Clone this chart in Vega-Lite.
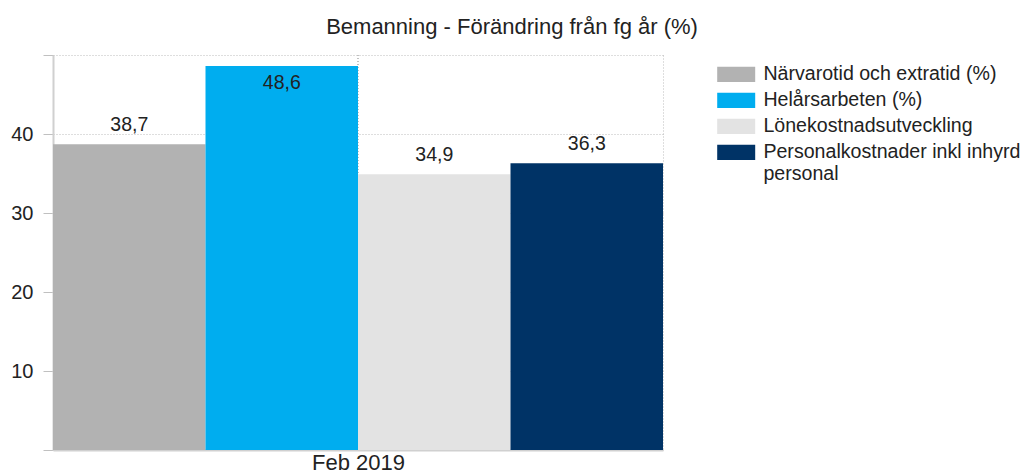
{
  "$schema": "https://vega.github.io/schema/vega-lite/v6.json",
  "autosize": "none",
  "padding": {"left": 53, "top": 55, "right": 367, "bottom": 24},
  "width": 610,
  "height": 395,
  "background": "white",
  "config": {
    "view": {"stroke": null},
    "font": "Liberation Sans",
    "locale": {
      "number": {"decimal": ",", "thousands": " ", "grouping": [3], "currency": ["", " kr"]}
    }
  },
  "title": {
    "text": "Bemanning - Förändring från fg år (%)",
    "fontSize": 22,
    "fontWeight": "normal",
    "color": "#222222",
    "anchor": "middle",
    "frame": "group",
    "dx": 154,
    "offset": 16
  },
  "data": {
    "values": [
      {"period": "Feb 2019", "serie": "Närvarotid och extratid (%)", "value": 38.7},
      {"period": "Feb 2019", "serie": "Helårsarbeten (%)", "value": 48.6},
      {"period": "Feb 2019", "serie": "Lönekostnadsutveckling", "value": 34.9},
      {"period": "Feb 2019", "serie": "Personalkostnader inkl inhyrd personal", "value": 36.3}
    ]
  },
  "encoding": {
    "x": {
      "field": "period", "type": "nominal", "title": null,
      "scale": {"paddingInner": 0, "paddingOuter": 0},
      "axis": {
        "labelAngle": 0, "labelFontSize": 22, "labelColor": "#222222", "labelPadding": 2,
        "ticks": false, "domainColor": "#d0d0d0", "domainWidth": 2,
        "grid": true, "tickBand": "extent", "gridColor": "#bdbdbd", "gridDash": [1, 2]
      }
    }
  },
  "layer": [
    {
      "mark": {"type": "rule", "color": "#bdbdbd", "strokeDash": [1, 2], "strokeWidth": 1},
      "encoding": {}
    },
    {
      "mark": {"type": "bar"},
      "encoding": {
        "xOffset": {
          "field": "serie", "type": "nominal",
          "scale": {
            "domain": ["Närvarotid och extratid (%)", "Helårsarbeten (%)", "Lönekostnadsutveckling", "Personalkostnader inkl inhyrd personal"],
            "paddingInner": 0, "paddingOuter": 0
          }
        },
        "y": {
          "field": "value", "type": "quantitative", "title": null,
          "scale": {"domain": [0, 50], "nice": false},
          "axis": {
            "values": [0, 10, 20, 30, 40, 50],
            "labelExpr": "datum.value == 0 || datum.value == 50 ? '' : datum.label",
            "labelFontSize": 20, "labelColor": "#222222", "labelPadding": 10,
            "tickSize": 10, "tickColor": "#c0c0c0", "domainColor": "#d0d0d0", "domainWidth": 2,
            "grid": true, "gridColor": "#bdbdbd", "gridDash": [1, 2]
          }
        },
        "color": {
          "field": "serie", "type": "nominal",
          "scale": {
            "domain": ["Närvarotid och extratid (%)", "Helårsarbeten (%)", "Lönekostnadsutveckling", "Personalkostnader inkl inhyrd personal"],
            "range": ["#b2b2b2", "#00adef", "#e3e3e3", "#003366"]
          },
          "legend": {
            "title": null,
            "orient": "none",
            "legendX": 673.4,
            "legendY": 9.5,
            "padding": 0,
            "symbolType": "M-2.5,-1H2.5V1H-2.5Z",
            "symbolSize": 231,
            "symbolStrokeWidth": 0,
            "symbolOpacity": 1,
            "labelFontSize": 19.6,
            "labelColor": "#222222",
            "labelOffset": 17.4,
            "labelLimit": 400,
            "rowPadding": 5,
            "labelExpr": "datum.label == 'Personalkostnader inkl inhyrd personal' ? ['Personalkostnader inkl inhyrd', 'personal'] : datum.label"
          }
        }
      }
    },
    {
      "transform": [{"filter": "datum.value < 45"}],
      "mark": {"type": "text", "baseline": "middle", "dy": -19, "fontSize": 19.5, "color": "#222222"},
      "encoding": {
        "xOffset": {"field": "serie", "type": "nominal"},
        "y": {"field": "value", "type": "quantitative"},
        "text": {"field": "value", "type": "quantitative", "format": ".1f"}
      }
    },
    {
      "transform": [{"filter": "datum.value >= 45"}],
      "mark": {"type": "text", "baseline": "middle", "dy": 17, "fontSize": 19.5, "color": "#222222"},
      "encoding": {
        "xOffset": {"field": "serie", "type": "nominal"},
        "y": {"field": "value", "type": "quantitative"},
        "text": {"field": "value", "type": "quantitative", "format": ".1f"}
      }
    }
  ]
}
